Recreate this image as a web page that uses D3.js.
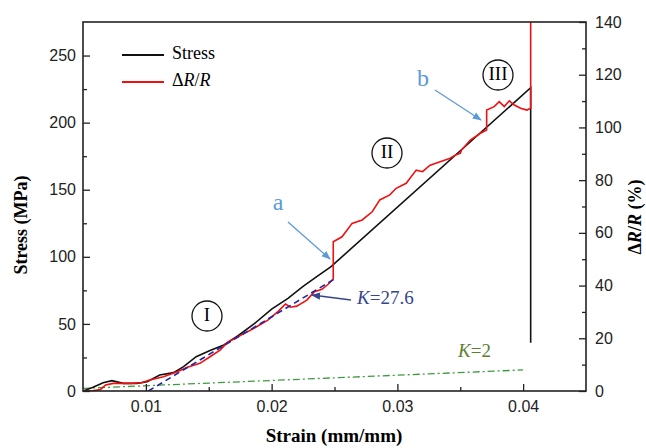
<!DOCTYPE html>
<html>
<head>
<meta charset="utf-8"/>
<script src="https://cdnjs.cloudflare.com/ajax/libs/d3/7.8.5/d3.min.js"></script>
<style>
  body { margin: 0; background: #fff; }
  text { font-family: "Liberation Serif", serif; }
  .tick text { font-family: "Liberation Sans", Arial, sans-serif; font-size: 16px; fill: #222; }
</style>
</head>
<body>
<script>
// tick values
const strainTicks = [0.01, 0.02, 0.03, 0.04];
const strainMinor = [0.015, 0.025, 0.035];
const stressTicks = [0, 50, 100, 150, 200, 250];
const stressMinor = [25, 75, 125, 175, 225];
const resTicks = [0, 20, 40, 60, 80, 100, 120, 140];
const resMinor = [10, 30, 50, 70, 90, 110, 130];

// stress curve (left axis, MPa)
const stressStrain = [0.005, 0.0058, 0.0066, 0.0073, 0.0082, 0.0093, 0.0101, 0.0111, 0.0122, 0.0130,
  0.0140, 0.0151, 0.0162, 0.0173, 0.0186, 0.0200, 0.0213, 0.0225, 0.0237, 0.0247, 0.0406, 0.0406];
const stressVal = [0, 2.8, 6.2, 7.7, 5.7, 5.7, 6.9, 11.9, 13.7, 18.1,
  25.6, 30.1, 34.3, 41, 50, 61, 69, 78, 86, 92.5, 226, 36];

// resistance change curve (right axis, %)
const resStrain = [0.005, 0.0056, 0.0064, 0.0068, 0.0074, 0.0088, 0.0097, 0.0103, 0.0114, 0.0125,
  0.0133, 0.0143, 0.0151, 0.0159, 0.0165, 0.0175, 0.0186, 0.0197, 0.0205, 0.0211,
  0.0215, 0.0220, 0.0228, 0.0234, 0.0240, 0.0245, 0.0249, 0.0249, 0.0256, 0.0264,
  0.0272, 0.0280, 0.0286, 0.0294, 0.0299, 0.0307, 0.0315, 0.0320, 0.0326, 0.0334,
  0.0342, 0.0346, 0.0350, 0.0351, 0.0358, 0.0366, 0.0371, 0.0371, 0.0377, 0.0381,
  0.0385, 0.0389, 0.0393, 0.0398, 0.0403, 0.0406, 0.0406];
const resVal = [0, 0, 0.6, 2.3, 2.9, 2.9, 3.2, 4.2, 5.4, 7.3,
  9.0, 10.5, 13.0, 15.5, 18.5, 21.0, 23.8, 26.9, 30.1, 33.0,
  31.8, 32.2, 34.5, 37.7, 38.6, 40.5, 42.5, 56.6, 58.5, 63.6,
  64.9, 68.0, 72.5, 74.4, 76.9, 78.8, 83.8, 83.2, 85.7, 87.0,
  88.3, 89.5, 90.2, 91.4, 95.2, 97.8, 99.0, 106.6, 107.9, 109.8,
  107.9, 110.1, 108.5, 107.3, 106.6, 107.3, 140];

// fit lines (right axis, %)
const fitK276Strain = [0.0102, 0.0250];
const fitK276Val = [0, 42.5];
const fitK2Strain = [0.005, 0.040];
const fitK2Val = [1, 8];

const width = 646, height = 448;
const margin = {top: 22, right: 60, bottom: 57, left: 83};

const svg = d3.select("body").append("svg")
  .attr("width", width).attr("height", height);

const x = d3.scaleLinear().domain([0.005, 0.045]).range([margin.left, width - margin.right]);
const yL = d3.scaleLinear().domain([0, 275]).range([height - margin.bottom, margin.top]);
const yR = d3.scaleLinear().domain([0, 140]).range([height - margin.bottom, margin.top]);

const defs = svg.append("defs");
defs.append("clipPath").attr("id", "clip").append("rect")
  .attr("x", margin.left).attr("y", margin.top)
  .attr("width", x.range()[1] - margin.left).attr("height", yL.range()[0] - margin.top);

function marker(id, color) {
  defs.append("marker").attr("id", id)
    .attr("viewBox", "0 0 10 10").attr("refX", 9).attr("refY", 5)
    .attr("markerWidth", 7).attr("markerHeight", 7).attr("orient", "auto")
    .append("path").attr("d", "M0,1 L10,5 L0,9 Z").attr("fill", color);
}
marker("arrBlue", "#5b9bd5");
marker("arrNavy", "#34468c");

const plot = svg.append("g").attr("clip-path", "url(#clip)");

// K=2 line
plot.append("path")
  .datum(d3.zip(fitK2Strain, fitK2Val))
  .attr("fill", "none").attr("stroke", "#3f9a3f").attr("stroke-width", 1.3)
  .attr("stroke-dasharray", "7,3,2,3")
  .attr("d", d3.line().x(d => x(d[0])).y(d => yR(d[1])));

// stress
plot.append("path")
  .datum(d3.zip(stressStrain, stressVal))
  .attr("fill", "none").attr("stroke", "#111").attr("stroke-width", 1.6)
  .attr("d", d3.line().x(d => x(d[0])).y(d => yL(d[1])));

// resistance
plot.append("path")
  .datum(d3.zip(resStrain, resVal))
  .attr("fill", "none").attr("stroke", "#f01010").attr("stroke-width", 1.6)
  .attr("d", d3.line().x(d => x(d[0])).y(d => yR(d[1])));

// K=27.6 fit
plot.append("path")
  .datum(d3.zip(fitK276Strain, fitK276Val))
  .attr("fill", "none").attr("stroke", "#2323a8").attr("stroke-width", 1.6)
  .attr("stroke-dasharray", "6,4")
  .attr("d", d3.line().x(d => x(d[0])).y(d => yR(d[1])));

// axes (inward ticks)
const bottom = height - margin.bottom, right = width - margin.right;
svg.append("g").attr("transform", `translate(0,${bottom})`)
  .call(d3.axisBottom(x).tickValues(strainMinor).tickSize(-4).tickFormat(""));
svg.append("g").attr("transform", `translate(0,${bottom})`)
  .call(d3.axisBottom(x).tickValues(strainTicks).tickSize(-7).tickPadding(10).tickFormat(d3.format(".2f")));
svg.append("g").attr("transform", `translate(${margin.left},0)`)
  .call(d3.axisLeft(yL).tickValues(stressMinor).tickSize(-4).tickFormat(""));
svg.append("g").attr("transform", `translate(${margin.left},0)`)
  .call(d3.axisLeft(yL).tickValues(stressTicks).tickSize(-7).tickPadding(7));
svg.append("g").attr("transform", `translate(${right},0)`)
  .call(d3.axisRight(yR).tickValues(resMinor).tickSize(-4).tickFormat(""));
svg.append("g").attr("transform", `translate(${right},0)`)
  .call(d3.axisRight(yR).tickValues(resTicks).tickSize(-7).tickPadding(9));
svg.selectAll(".domain").remove();
svg.selectAll(".tick line").attr("stroke", "#222").attr("stroke-width", 1.3);

svg.append("rect")
  .attr("x", margin.left).attr("y", margin.top)
  .attr("width", right - margin.left).attr("height", bottom - margin.top)
  .attr("fill", "none").attr("stroke", "#222").attr("stroke-width", 1.6);

// axis titles
svg.append("text").attr("transform", "translate(23,225) rotate(-90)")
  .attr("text-anchor", "middle").attr("dominant-baseline", "middle")
  .attr("font-size", 18).attr("font-weight", "bold").text("Stress (MPa)");
svg.append("text").attr("x", 334).attr("y", 438)
  .attr("text-anchor", "middle").attr("dominant-baseline", "middle")
  .attr("font-size", 19).attr("font-weight", "bold").text("Strain (mm/mm)");
const rt = svg.append("text").attr("transform", "translate(637,217) rotate(-90)")
  .attr("text-anchor", "middle").attr("dominant-baseline", "middle")
  .attr("font-size", 18).attr("font-weight", "bold");
rt.append("tspan").text("Δ");
rt.append("tspan").attr("font-style", "italic").text("R");
rt.append("tspan").text("/");
rt.append("tspan").attr("font-style", "italic").text("R");
rt.append("tspan").text(" (%)");

// legend
const legend = [
  {label: "Stress", color: "#111", y: 55},
  {label: "ΔR/R", color: "#f01010", y: 82}
];
legend.forEach(d => {
  svg.append("line").attr("x1", 122).attr("x2", 164).attr("y1", d.y).attr("y2", d.y)
    .attr("stroke", d.color).attr("stroke-width", 2);
  const t = svg.append("text").attr("x", 172).attr("y", d.y)
    .attr("dominant-baseline", "middle").attr("font-size", 18);
  if (d.label === "Stress") t.text("Stress");
  else {
    t.append("tspan").text("Δ");
    t.append("tspan").attr("font-style", "italic").text("R");
    t.append("tspan").text("/");
    t.append("tspan").attr("font-style", "italic").text("R");
  }
});

// region markers
[{t: "I", cx: 207, cy: 316}, {t: "II", cx: 387, cy: 153}, {t: "III", cx: 498, cy: 75}].forEach(d => {
  svg.append("circle").attr("cx", d.cx).attr("cy", d.cy).attr("r", 15)
    .attr("fill", "none").attr("stroke", "#111").attr("stroke-width", 1.3);
  svg.append("text").attr("x", d.cx).attr("y", d.cy + 1)
    .attr("text-anchor", "middle").attr("dominant-baseline", "middle")
    .attr("font-size", 19).text(d.t);
});

// annotations a, b
svg.append("text").attr("x", 278).attr("y", 204).attr("text-anchor", "middle")
  .attr("dominant-baseline", "middle").attr("font-size", 24).attr("fill", "#5b9bd5").text("a");
svg.append("line").attr("x1", 288).attr("y1", 222).attr("x2", 330).attr("y2", 259)
  .attr("stroke", "#5b9bd5").attr("stroke-width", 1.3).attr("marker-end", "url(#arrBlue)");
svg.append("text").attr("x", 423).attr("y", 80).attr("text-anchor", "middle")
  .attr("dominant-baseline", "middle").attr("font-size", 24).attr("fill", "#5b9bd5").text("b");
svg.append("line").attr("x1", 435).attr("y1", 90).attr("x2", 481).attr("y2", 120)
  .attr("stroke", "#5b9bd5").attr("stroke-width", 1.3).attr("marker-end", "url(#arrBlue)");

// K labels
svg.append("line").attr("x1", 351).attr("y1", 300).attr("x2", 312).attr("y2", 295)
  .attr("stroke", "#34468c").attr("stroke-width", 1.3).attr("marker-end", "url(#arrNavy)");
const k1 = svg.append("text").attr("x", 357).attr("y", 300)
  .attr("dominant-baseline", "middle").attr("font-size", 19).attr("fill", "#34468c");
k1.append("tspan").attr("font-style", "italic").text("K");
k1.append("tspan").text("=27.6");
const k2 = svg.append("text").attr("x", 458).attr("y", 353)
  .attr("dominant-baseline", "middle").attr("font-size", 19).attr("fill", "#5e7e2e");
k2.append("tspan").attr("font-style", "italic").text("K");
k2.append("tspan").text("=2");
</script>
</body>
</html>
